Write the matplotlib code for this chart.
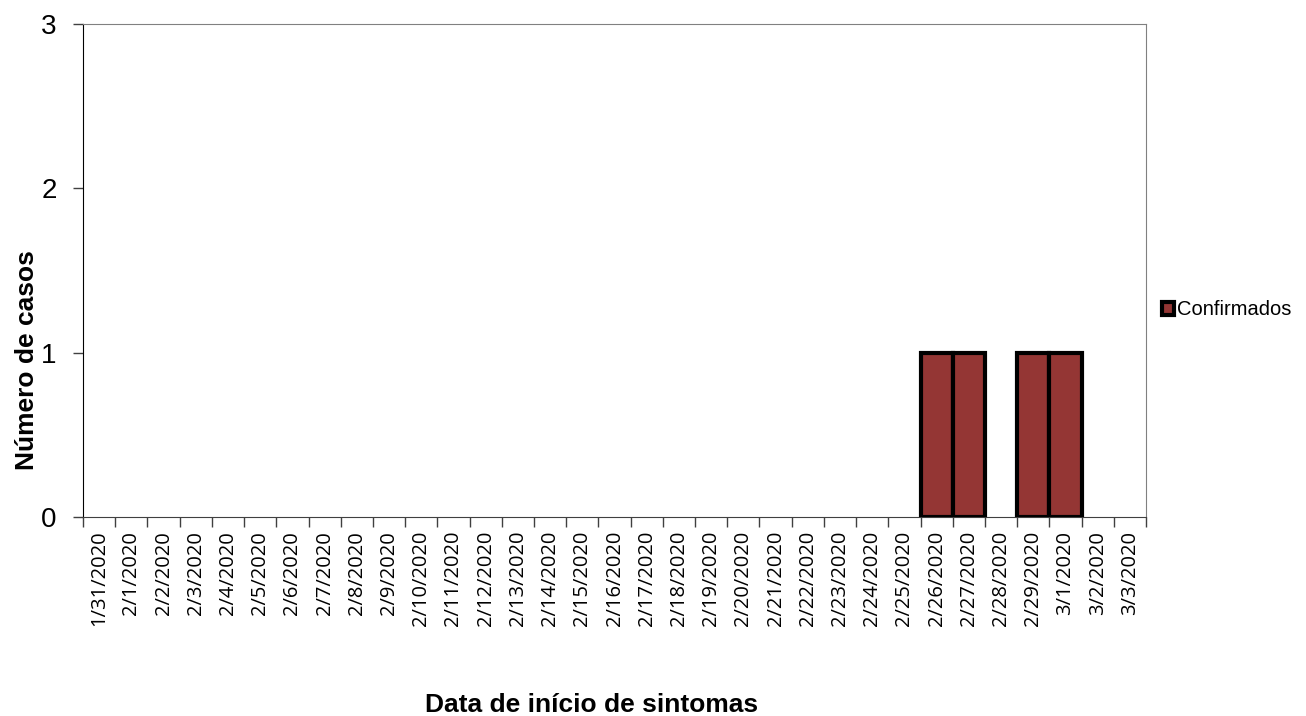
import matplotlib.pyplot as plt
import numpy as np

# dates of symptom onset and confirmed cases
datas = ['1/31/2020', '2/1/2020', '2/2/2020', '2/3/2020', '2/4/2020', '2/5/2020',
         '2/6/2020', '2/7/2020', '2/8/2020', '2/9/2020', '2/10/2020', '2/11/2020',
         '2/12/2020', '2/13/2020', '2/14/2020', '2/15/2020', '2/16/2020', '2/17/2020',
         '2/18/2020', '2/19/2020', '2/20/2020', '2/21/2020', '2/22/2020', '2/23/2020',
         '2/24/2020', '2/25/2020', '2/26/2020', '2/27/2020', '2/28/2020', '2/29/2020',
         '3/1/2020', '3/2/2020', '3/3/2020']
confirmados = [0, 0, 0, 0, 0, 0, 0, 0, 0, 0, 0, 0, 0, 0, 0, 0, 0, 0, 0, 0, 0, 0,
               0, 0, 0, 0, 1, 1, 0, 1, 1, 0, 0]

fig = plt.figure(figsize=(13.06, 7.16), dpi=100)
ax = fig.add_axes([0.0636, 0.278, 0.8139, 0.6885])

x = np.arange(len(datas))
y = np.array(confirmados)
#only draw non-empty days (zero bars would leave a black line)
nz = y > 0
ax.bar(x[nz], y[nz], width=1.0, color='#943634', edgecolor='black',
       linewidth=3, label='Confirmados', zorder=3)

ax.set_xlim(-0.5, len(datas) - 0.5)
ax.set_ylim(0, 3)
ax.set_yticks([0, 1, 2, 3])
ax.set_yticklabels(['0', '1', '2', '3'], fontsize=20, family='Liberation Sans')
ax.tick_params(axis='y', length=7, width=1, color='#404040', pad=12)

#category labels at centres, ticks at boundaries
ax.set_xticks(x)
ax.set_xticklabels(datas, rotation=90, fontsize=14.5, family='Open Sans')
ax.tick_params(axis='x', which='major', length=0, pad=10)
ax.set_xticks(np.arange(-0.5, len(datas)), minor=True)
ax.tick_params(axis='x', which='minor', length=7, width=1, color='#404040')

for s in ['top', 'right']:
    ax.spines[s].set_color('#808080')
ax.spines['bottom'].set_color('#404040')
ax.spines['left'].set_color('black')

fig.text(27 / 1306, 0.497, 'Número de casos', rotation=90, ha='center',
         va='center', fontsize=19, fontweight='bold', family='Liberation Sans')
fig.text(0.453, 1 - 705 / 716, 'Data de início de sintomas', ha='center',
         va='center', fontsize=19, fontweight='bold', family='Liberation Sans')

ax.legend(loc='center left', bbox_to_anchor=(0.998, 0.42), frameon=False,
          prop={'family': 'Liberation Sans', 'size': 14.5},
          handlelength=0.6, handleheight=0.6, handletextpad=0.15)

plt.savefig('out.png', dpi=100)
